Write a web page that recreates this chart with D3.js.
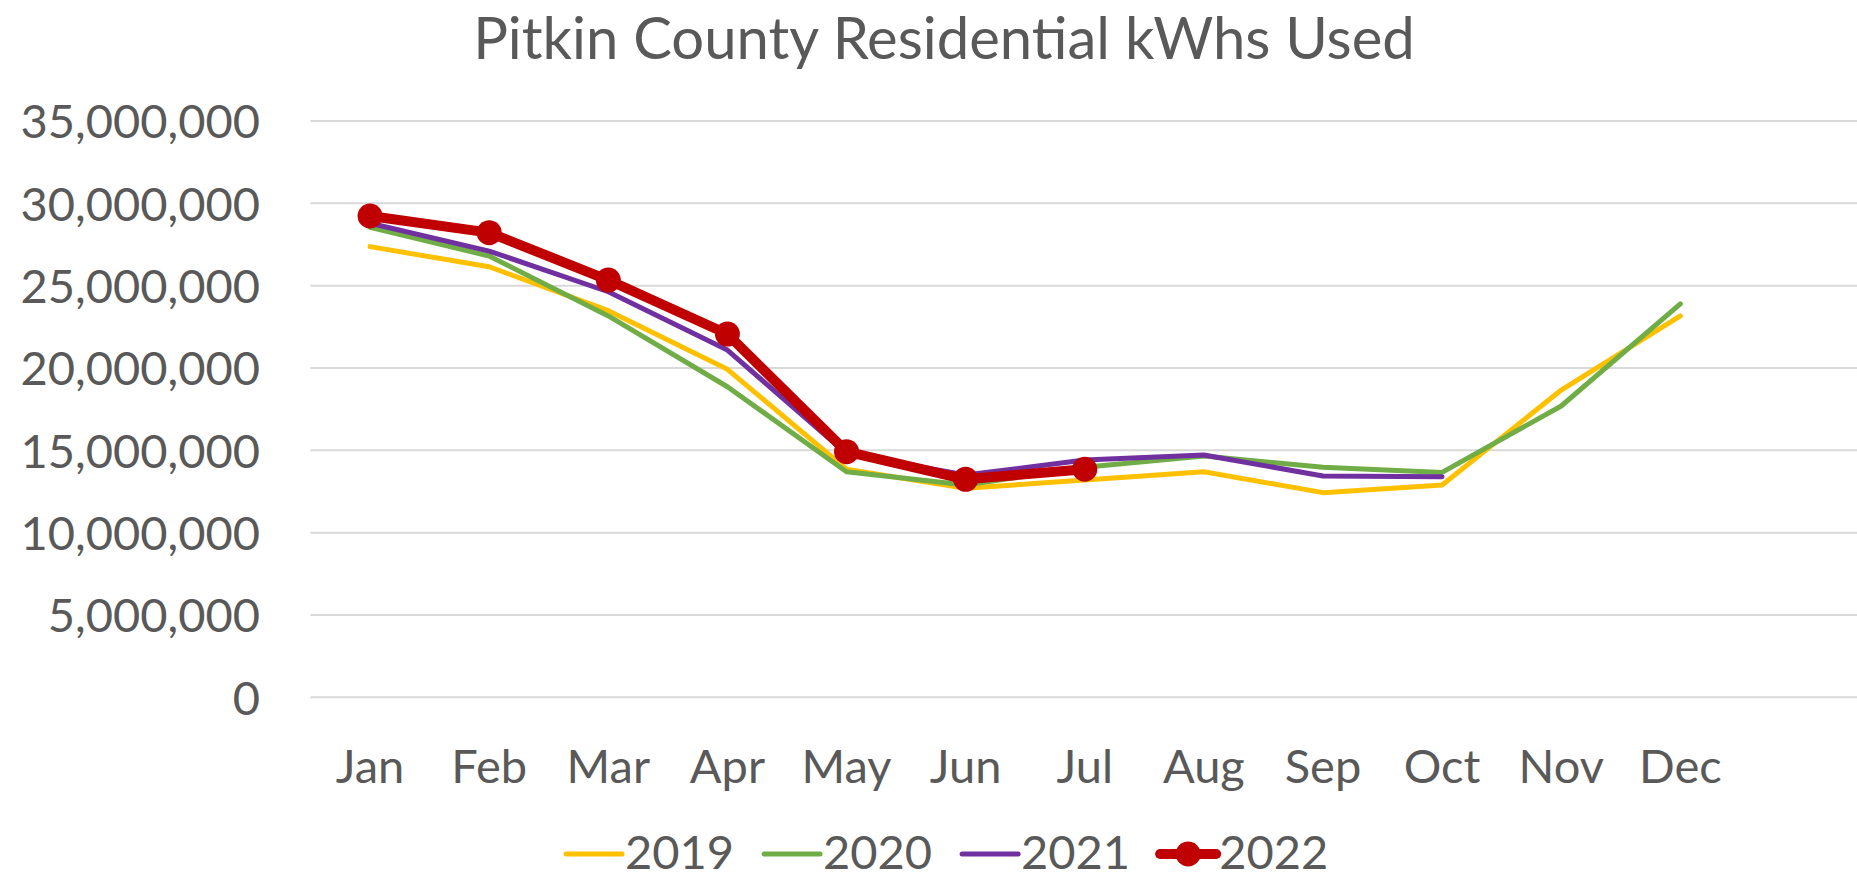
<!DOCTYPE html>
<html>
<head>
<meta charset="utf-8">
<script src="https://cdn.jsdelivr.net/npm/d3@7"></script>
<style>
  html, body { margin: 0; padding: 0; background: #fff; }
  svg { display: block; font-family: Lato, "Open Sans", sans-serif; }
</style>
</head>
<body>
<svg id="chart" width="1857" height="879"></svg>
<script>
const title = "Pitkin County Residential kWhs Used";
const months = ["Jan","Feb","Mar","Apr","May","Jun","Jul","Aug","Sep","Oct","Nov","Dec",""];
const yTicks = [0, 5000000, 10000000, 15000000, 20000000, 25000000, 30000000, 35000000];
const seriesNames = ["2019", "2020", "2021", "2022"];
const seriesColors = ["#FFC000", "#70AD47", "#7030A0", "#C00000"];
const v2019 = [27370000, 26150000, 23480000, 19920000, 13850000, 12690000, 13200000, 13700000, 12430000, 12890000, 18660000, 23160000];
const v2020 = [28540000, 26800000, 23160000, 18860000, 13700000, 12890000, 13970000, 14650000, 13970000, 13660000, 17690000, 23890000];
const v2021 = [28790000, 27100000, 24630000, 21090000, 14800000, 13500000, 14410000, 14720000, 13440000, 13400000];
const v2022 = [29230000, 28220000, 25340000, 22060000, 14920000, 13240000, 13850000];
const seriesValues = [v2019, v2020, v2021, v2022];

const svg = d3.select("#chart");
const textColor = "#595959";

const x = d3.scaleBand().domain(months.map((m, i) => i)).range([310.5, 1859]).padding(0);
const y = d3.scaleLinear().domain([0, 35000000]).range([697.3, 121]);

// title
svg.append("text")
  .attr("x", 944).attr("y", 59)
  .attr("text-anchor", "middle")
  .attr("fill", textColor)
  .attr("font-size", 58)
  .text(title);

// gridlines
svg.append("g").selectAll("line").data(yTicks).join("line")
  .attr("x1", 310.5).attr("x2", 1857)
  .attr("y1", d => y(d)).attr("y2", d => y(d))
  .attr("stroke", "#D9D9D9").attr("stroke-width", 2);

// y axis labels
const yAxis = d3.axisLeft(y).tickValues(yTicks).tickFormat(d3.format(",")).tickSize(0).tickPadding(0);
const gy = svg.append("g").attr("transform", "translate(260,0)").call(yAxis);
gy.select(".domain").remove();
gy.selectAll("text").attr("fill", textColor).attr("font-size", 47).attr("font-family", "Lato, sans-serif").attr("dy", "0.36em");

// x axis labels
const xAxis = d3.axisBottom(x).tickFormat(i => months[i]).tickSize(0).tickPadding(0);
const gx = svg.append("g").attr("transform", "translate(0,783)").call(xAxis);
gx.select(".domain").remove();
gx.selectAll("text").attr("fill", textColor).attr("font-size", 47).attr("font-family", "Lato, sans-serif").attr("dy", 0);

const cx = i => x(i) + x.bandwidth() / 2;
const line = d3.line().x((d, i) => cx(i)).y(d => y(d));

seriesValues.forEach((vals, si) => {
  const isMain = si === 3;
  svg.append("path")
    .datum(vals)
    .attr("d", line)
    .attr("fill", "none")
    .attr("stroke", seriesColors[si])
    .attr("stroke-width", isMain ? 10 : 5)
    .attr("stroke-linecap", "round")
    .attr("stroke-linejoin", "round");
  if (isMain) {
    svg.append("g").selectAll("circle").data(vals).join("circle")
      .attr("cx", (d, i) => cx(i))
      .attr("cy", d => y(d))
      .attr("r", 12.5)
      .attr("fill", seriesColors[si]);
  }
});

// legend
const legend = svg.append("g");
let lx = 566;
const ly = 854;
seriesNames.forEach((name, si) => {
  const g = legend.append("g");
  g.append("line")
    .attr("x1", lx).attr("x2", lx + 56)
    .attr("y1", ly).attr("y2", ly)
    .attr("stroke", seriesColors[si])
    .attr("stroke-width", si === 3 ? 10 : 5)
    .attr("stroke-linecap", "round");
  if (si === 3) {
    g.append("circle").attr("cx", lx + 28).attr("cy", ly).attr("r", 12.5).attr("fill", seriesColors[si]);
  }
  const t = g.append("text")
    .attr("x", lx + 59).attr("y", 869)
    .attr("fill", textColor)
    .attr("font-size", 47)
    .text(name);
  const w = t.node().getComputedTextLength();
  lx = lx + 59 + w + 30;
});
</script>
</body>
</html>
